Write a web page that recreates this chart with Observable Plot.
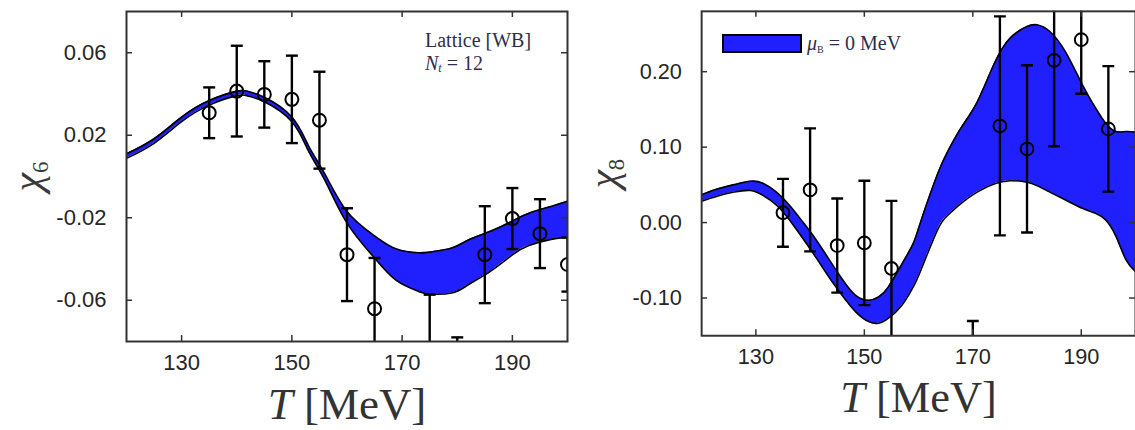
<!DOCTYPE html>
<html>
<head>
<meta charset="utf-8">
<script src="https://cdn.jsdelivr.net/npm/d3@7"></script>
<script src="https://cdn.jsdelivr.net/npm/@observablehq/plot@0.6"></script>
<style>
  body { margin: 0; background: #fff; }
  #wrap { position: relative; width: 1135px; height: 430px; overflow: hidden; background: #fff; }
  .panel { position: absolute; top: 0; }
  .leg { position: absolute; font-family: "Liberation Serif", serif; color: #2e2e4c; font-size: 20px; white-space: nowrap; }
  .swatch { position: absolute; box-sizing: border-box; background: #2020ff; border: 2px solid #000; }
</style>
</head>
<body>
<div id="wrap">
  <div id="p6" class="panel" style="left:0px"></div>
  <div id="p8" class="panel" style="left:570px"></div>
  <div class="leg" style="left:425px; top:28.5px; line-height:23px;">Lattice [WB]<br><i>N</i><sub style="font-size:0.6em; vertical-align:-0.2em;"><i>t</i></sub> = 12</div>
  <div class="swatch" style="left:722px; top:34px; width:80px; height:19px;"></div>
  <div class="leg" style="left:807px; top:32.5px; line-height:20px;"><i>μ</i><sub style="font-size:0.5em; vertical-align:-0.3em;">B</sub> = 0 MeV</div>
</div>
<script>
// ---------- χ6 panel ----------
const T6 = [120, 125, 130, 135, 140, 142, 145, 150, 153, 156, 160, 165, 169, 173, 175, 179, 182, 186, 190, 193, 197, 200];
const chi6Hi = [0.0110, 0.0183, 0.0288, 0.0368, 0.0414, 0.0413, 0.0384, 0.0288, 0.0150, 0.0011, -0.0170, -0.0288, -0.0352, -0.0370, -0.0366, -0.0347, -0.0308, -0.0266, -0.0216, -0.0178, -0.0145, -0.0120];
const chi6Lo = [0.0088, 0.0161, 0.0266, 0.0346, 0.0392, 0.0391, 0.0362, 0.0265, 0.0124, -0.0019, -0.0226, -0.0395, -0.0505, -0.0557, -0.0570, -0.0565, -0.0525, -0.0460, -0.0380, -0.0335, -0.0305, -0.0295];
const lat6T = [135, 140, 145, 150, 155, 160, 165, 175, 180, 185, 190, 195, 200];
const lat6Val = [0.0309, 0.0414, 0.0398, 0.0374, 0.0273, -0.0379, -0.0641, -0.088, -0.105, -0.0379, -0.0204, -0.0277, -0.0427];
const lat6Err = [0.0123, 0.0220, 0.0161, 0.0212, 0.0235, 0.0225, 0.0246, 0.0307, 0.0270, 0.0235, 0.0148, 0.0167, 0.0131];
const x6Ticks = [130, 150, 170, 190];
const y6Ticks = [-0.06, -0.02, 0.02, 0.06];

// ---------- χ8 panel ----------
const T8 = [120, 123, 126, 129, 131.3, 133.8, 136.2, 138.6, 141.1, 143.5, 145.9, 148.4, 150.8, 152.6, 154.4, 156.9, 159, 160.5, 163.5, 165.4, 167.8, 170.8, 173.9, 176.9, 180, 181.8, 184.2, 187.2, 190.3, 192.7, 194.5, 196.4, 198.2, 200];
const chi8Hi = [0.0369, 0.0447, 0.0503, 0.0548, 0.0521, 0.0404, 0.0230, 0.0013, -0.0227, -0.0488, -0.0748, -0.0965, -0.1030, -0.0987, -0.0856, -0.0553, -0.0280, 0.0034, 0.0643, 0.0947, 0.1252, 0.1598, 0.2099, 0.2446, 0.2598, 0.2621, 0.2533, 0.2250, 0.1816, 0.1512, 0.1317, 0.1207, 0.1207, 0.1200];
const chi8Lo = [0.0282, 0.0352, 0.0404, 0.0425, 0.0360, 0.0230, 0.0034, -0.0205, -0.0465, -0.0726, -0.0965, -0.1183, -0.1313, -0.1335, -0.1270, -0.1100, -0.0857, -0.0618, -0.0096, 0.0099, 0.0252, 0.0404, 0.0512, 0.0555, 0.0534, 0.0490, 0.0404, 0.0295, 0.0186, 0.0121, 0.0034, -0.0183, -0.0488, -0.0650];
const lat8T = [135, 140, 145, 150, 155, 170, 175, 180, 185, 190, 195];
const lat8Val = [0.0130, 0.0434, -0.0305, -0.0270, -0.0609, -0.215, 0.1282, 0.0977, 0.2151, 0.2425, 0.1242];
const lat8Err = [0.0450, 0.0815, 0.0624, 0.0825, 0.0896, 0.0846, 0.1452, 0.1108, 0.1139, 0.0717, 0.0832];
const x8Ticks = [130, 150, 170, 190];
const y8Ticks = [-0.10, 0.00, 0.10, 0.20];

const capSymbol = {
  draw(ctx, size) {
    const w = Math.sqrt(size / Math.PI);
    ctx.moveTo(-w, 0);
    ctx.lineTo(w, 0);
  }
};

function richText(svg, match, html) {
  d3.select(svg).selectAll("text").each(function () {
    if (this.textContent === match) this.innerHTML = html;
  });
}

function panel(cfg) {
  const band = cfg.T.map((t, i) => ({T: t, hi: cfg.hi[i], lo: cfg.lo[i]}));
  const pts = cfg.pT.map((t, i) => ({T: t, v: cfg.pV[i], e: cfg.pE[i]}));
  const W = cfg.width - cfg.marginLeft - cfg.marginRight;
  const H = cfg.height - cfg.marginTop - cfg.marginBottom;
  const curve = "natural";
  const frameColor = "#333";
  const svg = Plot.plot({
    width: cfg.width,
    height: cfg.height,
    marginLeft: cfg.marginLeft,
    marginRight: cfg.marginRight,
    marginTop: cfg.marginTop,
    marginBottom: cfg.marginBottom,
    style: {fontFamily: "'Liberation Sans', Arial, sans-serif", fontSize: "22px", color: "#262626", background: "#fff", overflow: "visible"},
    x: {domain: [120, 200]},
    y: {domain: cfg.yDomain},
    marks: [
      Plot.areaY(band, {x: "T", y1: "lo", y2: "hi", fill: "#2020ff", curve, clip: true}),
      Plot.line(band, {x: "T", y: "hi", stroke: "#000", strokeWidth: 1.6, curve, clip: true}),
      Plot.line(band, {x: "T", y: "lo", stroke: "#000", strokeWidth: 1.6, curve, clip: true}),
      Plot.ruleX(pts, {x: "T", y1: d => d.v - d.e, y2: d => d.v + d.e, stroke: "#000", strokeWidth: 2.4, clip: true}),
      Plot.dot(pts, {x: "T", y: d => d.v + d.e, symbol: capSymbol, r: 6, stroke: "#000", strokeWidth: 2.4, fill: "none", clip: true}),
      Plot.dot(pts, {x: "T", y: d => d.v - d.e, symbol: capSymbol, r: 6, stroke: "#000", strokeWidth: 2.4, fill: "none", clip: true}),
      Plot.dot(pts, {x: "T", y: "v", r: 6.5, stroke: "#000", strokeWidth: 2, fill: "none", clip: true}),
      // inward ticks on all four sides
      Plot.tickX(cfg.xTicks, {x: d => d, insetTop: H - 6, stroke: frameColor, strokeWidth: 1.5}),
      Plot.tickX(cfg.xTicks, {x: d => d, insetBottom: H - 6, stroke: frameColor, strokeWidth: 1.5}),
      Plot.tickY(cfg.yTicks, {y: d => d, insetRight: W - 6, stroke: frameColor, strokeWidth: 1.5}),
      Plot.tickY(cfg.yTicks, {y: d => d, insetLeft: W - 6, stroke: frameColor, strokeWidth: 1.5}),
      Plot.axisX({ticks: cfg.xTicks, tickSize: 0, tickPadding: 13, fontSize: 22, tickFormat: d => String(d), label: null}),
      Plot.axisY({ticks: cfg.yTicks, tickSize: 0, tickPadding: 20, fontSize: 22, tickFormat: d => d.toFixed(2), label: null}),
      Plot.frame({stroke: frameColor, strokeWidth: 2}),
      Plot.text(["T [MeV]"], {frameAnchor: "bottom", dy: 77, lineAnchor: "bottom", textAnchor: "middle", fontSize: 45, fontFamily: "'Liberation Serif', serif", fill: "#333"}),
      Plot.text([cfg.yLabel], {frameAnchor: "left", dx: -99, rotate: -90, lineAnchor: "middle", textAnchor: "middle", fontSize: 42, fontFamily: "'Liberation Serif', serif", fill: "#3a3a3a"})
    ]
  });
  richText(svg, "T [MeV]", '<tspan font-style="italic">T</tspan> [MeV]');
  richText(svg, cfg.yLabel, '<tspan font-style="italic">χ</tspan><tspan font-size="0.55em" dy="0.3em">' + cfg.yLabel.slice(1) + '</tspan>');
  return svg;
}

document.getElementById("p6").appendChild(panel({
  width: 570, height: 430, marginLeft: 126, marginRight: 3, marginTop: 11, marginBottom: 89,
  yDomain: [-0.08, 0.08], T: T6, hi: chi6Hi, lo: chi6Lo,
  pT: lat6T, pV: lat6Val, pE: lat6Err, xTicks: x6Ticks, yTicks: y6Ticks, yLabel: "χ6"
}));
document.getElementById("p8").appendChild(panel({
  width: 573, height: 430, marginLeft: 133, marginRight: 0, marginTop: 11, marginBottom: 90,
  yDomain: [-0.15, 0.28], T: T8, hi: chi8Hi, lo: chi8Lo,
  pT: lat8T, pV: lat8Val, pE: lat8Err, xTicks: x8Ticks, yTicks: y8Ticks, yLabel: "χ8"
}));
</script>
</body>
</html>
